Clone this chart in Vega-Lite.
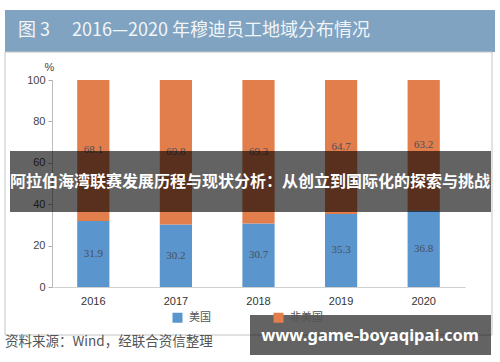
{
  "$schema": "https://vega.github.io/schema/vega-lite/v6.json",
  "autosize": "none",
  "width": 413,
  "height": 207,
  "padding": {"left": 52, "top": 80, "right": 35, "bottom": 75},
  "background": "white",
  "config": {"view": {"stroke": null}, "font": "Liberation Sans"},
  "datasets": {
    "main": [
      {"year": "2016", "region": "美国", "share": 31.9},
      {"year": "2016", "region": "非美国", "share": 68.1},
      {"year": "2017", "region": "美国", "share": 30.2},
      {"year": "2017", "region": "非美国", "share": 69.8},
      {"year": "2018", "region": "美国", "share": 30.7},
      {"year": "2018", "region": "非美国", "share": 69.3},
      {"year": "2019", "region": "美国", "share": 35.3},
      {"year": "2019", "region": "非美国", "share": 64.7},
      {"year": "2020", "region": "美国", "share": 36.8},
      {"year": "2020", "region": "非美国", "share": 63.2}
    ],
    "header": [{"t": "图 3\u2003 2016—2020 年穆迪员工地域分布情况"}],
    "band": [{"t": "阿拉伯海湾联赛发展历程与现状分析：从创立到国际化的探索与挑战"}],
    "wm": [{"t": "www.game-boyaqipai.com"}],
    "src": [{"t": "资料来源：Wind，经联合资信整理"}]
  },
  "layer": [
    {
      "data": {"name": "header"},
      "mark": {"type": "rect", "fill": "#7fa3c1"},
      "encoding": {"x": {"value": -47}, "x2": {"value": 443}, "y": {"value": -70}, "y2": {"value": -28}}
    },
    {
      "data": {"name": "header"},
      "mark": {"type": "text", "font": "Noto Sans CJK SC", "fontSize": 18, "color": "#f2f5f8", "align": "left", "baseline": "middle"},
      "encoding": {"x": {"value": -34}, "y": {"value": -49}, "text": {"field": "t"}}
    },
    {
      "data": {"name": "header"},
      "mark": {"type": "rect", "fill": null, "stroke": "#c4c4c4", "strokeWidth": 1},
      "encoding": {"x": {"value": -47}, "x2": {"value": 440}, "y": {"value": -28}, "y2": {"value": 255}}
    },
    {
      "data": {"name": "main"},
      "mark": {"type": "bar"},
      "encoding": {
        "x": {
          "field": "year", "type": "nominal",
          "scale": {"paddingInner": 0.61, "paddingOuter": 0.305},
          "axis": {"title": null, "labelAngle": 0, "ticks": false, "domainColor": "#d0d0d0", "labelColor": "#333", "labelFontSize": 11, "labelPadding": 8}
        },
        "y": {
          "field": "share", "type": "quantitative", "stack": "zero",
          "scale": {"domain": [0, 100]},
          "axis": {"title": "%", "titleAngle": 0, "titleX": -3, "titleY": -8, "titleFontWeight": "normal", "titleFontSize": 11, "titleColor": "#444", "titleAlign": "center", "values": [0, 10, 20, 30, 40, 50, 60, 70, 80, 90, 100], "grid": false, "domainColor": "#bbb", "tickColor": "#aaa", "tickSize": 4, "labelPadding": 3, "labelColor": "#444", "labelFontSize": 11}
        },
        "color": {
          "field": "region", "type": "nominal",
          "scale": {"domain": ["美国", "非美国"], "range": ["#5a95cd", "#e27d4c"]},
          "legend": {"orient": "none", "legendX": 120, "legendY": 232, "direction": "horizontal", "title": null, "symbolType": "square", "symbolSize": 100, "symbolStrokeWidth": 0, "labelFontSize": 11, "labelColor": "#555", "labelFont": "Noto Sans CJK SC", "columnPadding": 62, "labelOffset": 6}
        },
        "order": {"field": "region", "sort": "ascending"}
      }
    },
    {
      "data": {"name": "main"},
      "transform": [
        {"stack": "share", "groupby": ["year"], "sort": [{"field": "region", "order": "ascending"}], "as": ["s0", "s1"]},
        {"calculate": "(datum.s0 + datum.s1) / 2", "as": "mid"}
      ],
      "mark": {"type": "text", "font": "Liberation Serif", "fontSize": 11, "color": "#4a4f5a", "baseline": "middle"},
      "encoding": {
        "x": {"field": "year", "type": "nominal"},
        "y": {"field": "mid", "type": "quantitative"},
        "text": {"field": "share", "type": "quantitative", "format": ".1f"}
      }
    },
    {
      "data": {"name": "band"},
      "mark": {"type": "rect", "fill": "black", "opacity": 0.61, "zindex": 1},
      "encoding": {"x": {"value": -42}, "x2": {"value": 439}, "y": {"value": 71}, "y2": {"value": 132}}
    },
    {
      "data": {"name": "band"},
      "mark": {"type": "text", "font": "Noto Sans CJK SC", "fontWeight": "bold", "fontSize": 16, "color": "white", "align": "center", "baseline": "middle", "zindex": 1},
      "encoding": {"x": {"value": 198}, "y": {"value": 102}, "text": {"field": "t"}}
    },
    {
      "data": {"name": "wm"},
      "mark": {"type": "rect", "fill": "black", "opacity": 0.61, "zindex": 1},
      "encoding": {"x": {"value": 198}, "x2": {"value": 439}, "y": {"value": 235}, "y2": {"value": 275}}
    },
    {
      "data": {"name": "wm"},
      "mark": {"type": "text", "font": "Noto Sans", "fontWeight": "bold", "fontSize": 16.5, "color": "white", "align": "center", "baseline": "middle", "zindex": 1},
      "encoding": {"x": {"value": 318}, "y": {"value": 256}, "text": {"field": "t"}}
    },
    {
      "data": {"name": "src"},
      "mark": {"type": "text", "font": "Noto Sans CJK SC", "fontSize": 13.5, "color": "#555", "align": "left", "baseline": "middle"},
      "encoding": {"x": {"value": -47}, "y": {"value": 262}, "text": {"field": "t"}}
    }
  ]
}
